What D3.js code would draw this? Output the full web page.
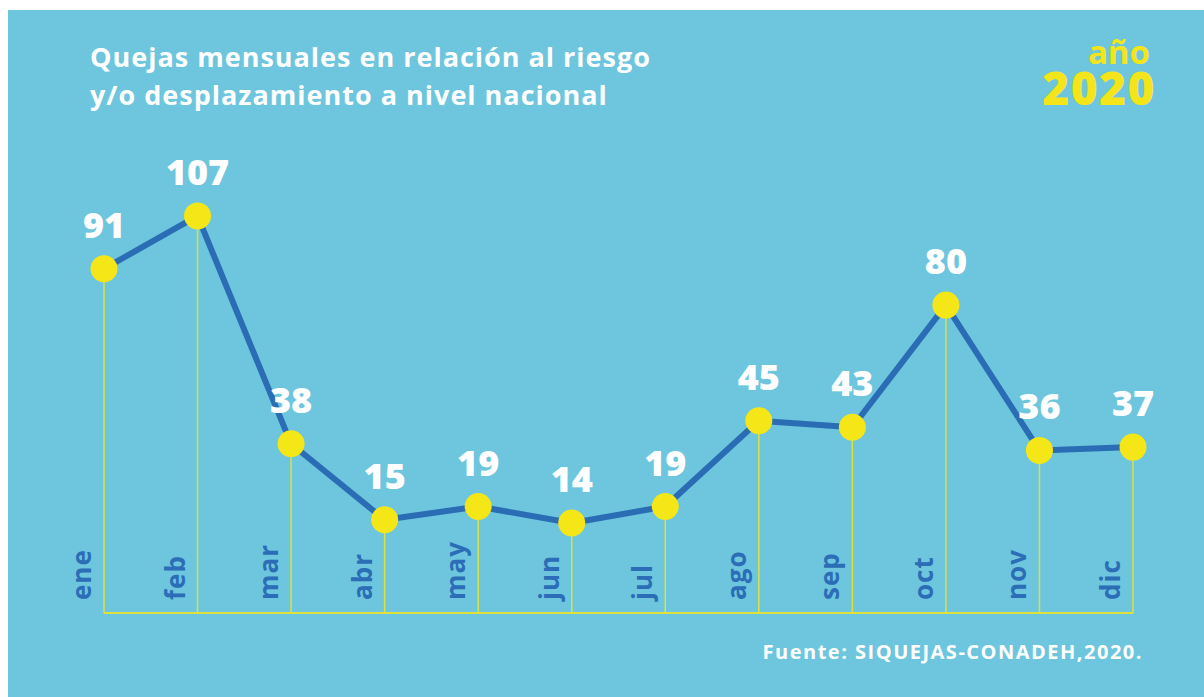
<!DOCTYPE html>
<html>
<head>
<meta charset="utf-8">
<script src="https://cdn.jsdelivr.net/npm/d3@7"></script>
<style>
  body { margin: 0; background: #fff; }
  svg text { font-family: "Open Sans", Lato, sans-serif; font-weight: 700; }
</style>
</head>
<body>
<div id="chart"></div>
<script>
let months = ["ene", "feb", "mar", "abr", "may", "jun", "jul", "ago", "sep", "oct", "nov", "dic"]
let quejas = [91, 107, 38, 15, 19, 14, 19, 45, 43, 80, 36, 37]

let titleLines = ["Quejas mensuales en relación al riesgo", "y/o desplazamiento a nivel nacional"]
let sourceText = "Fuente: SIQUEJAS-CONADEH,2020."

let rows = months.map((m, i) => ({ month: m, value: quejas[i] }))

let W = 1204, H = 697
let svg = d3.select('#chart').append('svg')
    .attr('width', W)
    .attr('height', H)

svg.append('rect')
    .attr('x', 8).attr('y', 10)
    .attr('width', W - 8).attr('height', H - 10)
    .attr('fill', '#6dc6dd')

let x = d3.scalePoint().domain(months).range([104, 1133])
let y = d3.scaleLinear().domain([0, 110]).range([569.3, 206])
let baseY = 613

// title
svg.selectAll('text.title')
    .data(titleLines)
    .enter()
    .append('text')
    .attr('class', 'title')
    .attr('x', 90)
    .attr('y', (d, i) => 67 + i * 38)
    .attr('fill', '#fff')
    .style('font-size', '27px')
    .style('letter-spacing', '1px')
    .text(d => d)

svg.append('text')
    .attr('x', 1150).attr('y', 64)
    .attr('text-anchor', 'end')
    .attr('fill', '#f4e51a')
    .style('font-size', '33px')
    .text('año')

svg.append('text')
    .attr('x', 1156).attr('y', 105)
    .attr('text-anchor', 'end')
    .attr('fill', '#f4e51a')
    .style('font-size', '46px')
    .style('font-weight', 800)
    .style('letter-spacing', '1.5px')
    .text('2020')

// baseline + drop lines
svg.append('line')
    .attr('x1', x(months[0])).attr('x2', x(months[months.length - 1]))
    .attr('y1', baseY).attr('y2', baseY)
    .attr('stroke', '#dde13c')
    .attr('stroke-width', 2)

svg.selectAll('line.drop')
    .data(rows)
    .enter()
    .append('line')
    .attr('class', 'drop')
    .attr('x1', d => x(d.month)).attr('x2', d => x(d.month))
    .attr('y1', d => y(d.value)).attr('y2', baseY)
    .attr('stroke', '#dde13c')
    .attr('stroke-width', 1.5)

// month labels
svg.selectAll('text.month')
    .data(rows)
    .enter()
    .append('text')
    .attr('class', 'month')
    .attr('transform', d => `translate(${x(d.month) - 13}, 600) rotate(-90)`)
    .attr('fill', '#2b6db6')
    .style('font-size', '26px')
    .style('letter-spacing', '1px')
    .text(d => d.month)

// line
let line = d3.line().x(d => x(d.month)).y(d => y(d.value))
svg.append('path')
    .datum(rows)
    .attr('d', line)
    .attr('fill', 'none')
    .attr('stroke', '#2a6db5')
    .attr('stroke-width', 6)
    .attr('stroke-linejoin', 'round')

svg.selectAll('circle')
    .data(rows)
    .enter()
    .append('circle')
    .attr('cx', d => x(d.month))
    .attr('cy', d => y(d.value))
    .attr('r', 13.5)
    .attr('fill', '#f5e617')

svg.selectAll('text.val')
    .data(rows)
    .enter()
    .append('text')
    .attr('class', 'val')
    .attr('x', d => x(d.month))
    .attr('y', d => y(d.value) - 31)
    .attr('text-anchor', 'middle')
    .attr('fill', '#fff')
    .style('font-size', '36px')
    .style('font-weight', 800)
    .text(d => d.value)

svg.append('text')
    .attr('x', 1143).attr('y', 659)
    .attr('text-anchor', 'end')
    .attr('fill', '#fff')
    .style('font-size', '20px')
    .style('letter-spacing', '1.5px')
    .text(sourceText)
</script>
</body>
</html>
